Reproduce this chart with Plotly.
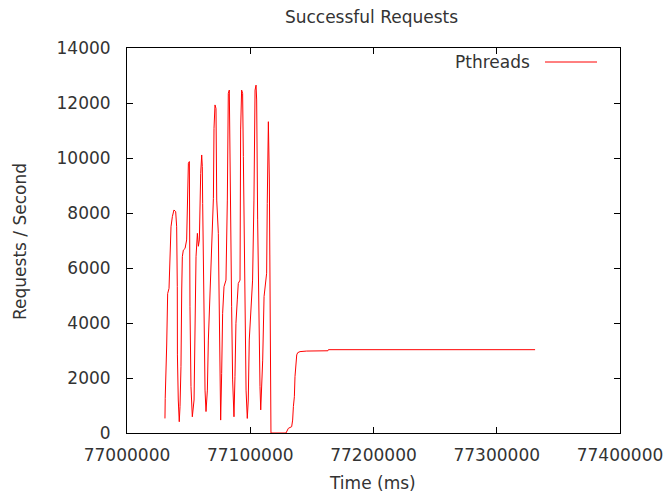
import plotly.graph_objects as go

# Time offsets (ms) relative to 77,000,000 and request rates
base_time = 77000000
t_offset = [
    30800, 31000, 32200, 33000, 34100, 34900, 35700, 36800, 38100, 39500,
    40300, 40800, 40900, 41600, 42400, 43000, 43800, 44400, 44900, 45700,
    47100, 48400, 48900, 49800, 50600, 50700, 51100, 51900, 53000, 54400,
    55200, 56000, 57100, 57900, 58700, 59200, 59800, 60600, 61100, 61400,
    61900, 62700, 63300, 64100, 65200, 66000, 66800, 67900, 68700, 69500,
    70100, 70600, 71400, 72200, 72800, 74100, 74900, 75500, 76000, 76800,
    77600, 78700, 80300, 81400, 82200, 83000, 83600, 84100, 84900, 85700,
    86800, 87600, 88400, 89500, 90300, 91700, 92200, 93000, 93800, 94400,
    95200, 95700, 96600, 97600, 98400, 99200, 100300, 101900, 103000, 103900,
    104700, 105200, 106000, 106600, 107400, 107900, 108500, 109300, 110100, 111200,
    112000, 113300, 113800, 114700, 115500, 116000, 116600, 116800, 129000, 129600,
    130900, 133600, 134400, 135000, 135800, 136300, 137100, 137700, 138500, 140400,
    145800, 163000, 163400, 331100,
]
requests = [
    530, 1260, 3200, 5070, 5260, 6530, 7500, 7870, 8110, 8050,
    7500, 5320, 2840, 1200, 410, 960, 2410, 5200, 6410, 6650,
    6710, 7020, 8110, 9810, 9870, 8110, 4590, 1690, 590, 1200,
    3750, 6410, 7260, 6790, 7020, 8350, 9440, 10110, 9690, 8350,
    5810, 3750, 1560, 780, 1560, 3380, 4350, 5810, 6410, 7500,
    8530, 11080, 11930, 11800, 8470, 7260, 4590, 1560, 470, 2170,
    4350, 5320, 5560, 8470, 12350, 12470, 10060, 5930, 4590, 1930,
    590, 2050, 3990, 4840, 5440, 5560, 11020, 12470, 12350, 10060,
    6290, 4230, 1560, 530, 1200, 3380, 4230, 5560, 8470, 12470,
    12650, 12110, 7750, 5200, 2780, 1690, 840, 1690, 2650, 4960,
    5320, 5810, 8350, 11320, 9200, 3380, 1200, 0, 0, 50,
    170, 230, 470, 960, 1320, 2050, 2650, 2840, 2920, 2960,
    2980, 2990, 3030, 3030,
]

times = [base_time + v for v in t_offset]

x_ticks = [77000000, 77100000, 77200000, 77300000, 77400000]
y_ticks = [0, 2000, 4000, 6000, 8000, 10000, 12000, 14000]

FONT = dict(family="DejaVu Sans", size=17, color="#333333")

# plot area in pixels (from the reference)
L, R, T, B = 127, 620, 48, 433
PW, PH = R - L, B - T


def px(x):
    return (x - L) / PW


def py(y):
    return (B - y) / PH


fig = go.Figure()
fig.add_trace(go.Scatter(x=times, y=requests, mode="lines", name="Pthreads",
                         line=dict(color="#ff0000", width=1), showlegend=False))

fig.update_layout(
    width=669, height=499,
    margin=dict(l=L, r=669 - R, t=T, b=499 - B, autoexpand=False),
    paper_bgcolor="white", plot_bgcolor="white",
    title=dict(text="Successful Requests", x=371.5 / 669, xanchor="center",
               y=1 - 17 / 499, yanchor="middle", xref="container", yref="container",
               font=FONT),
    font=FONT,
    showlegend=False,
)
fig.update_xaxes(range=[77000000, 77400000], tickvals=x_ticks,
                 ticktext=[str(v) for v in x_ticks],
                 ticks="inside", ticklen=6, tickcolor="#000", mirror="ticks",
                 showline=True, linecolor="#000", linewidth=1, showgrid=False,
                 zeroline=False, automargin=False, ticklabelstandoff=7)
fig.update_yaxes(range=[0, 14000], tickvals=y_ticks,
                 ticktext=[str(v) for v in y_ticks],
                 ticks="inside", ticklen=6, tickcolor="#000", mirror="ticks",
                 showline=True, linecolor="#000", linewidth=1, showgrid=False,
                 zeroline=False, automargin=False, ticklabelstandoff=12)

# axis titles
fig.add_annotation(text="Time (ms)", xref="paper", yref="paper",
                   x=px(372), y=py(483), xanchor="center", yanchor="middle",
                   showarrow=False, font=FONT)
fig.add_annotation(text="Requests / Second", xref="paper", yref="paper",
                   x=px(20), y=py(242), xanchor="center", yanchor="middle",
                   textangle=-90, showarrow=False, font=FONT)

# gnuplot-style key: label then line sample, top right inside the plot
fig.add_annotation(text="Pthreads", xref="paper", yref="paper",
                   x=px(532), y=py(62), xanchor="right", yanchor="middle",
                   showarrow=False, font=FONT)
fig.add_shape(type="line", xref="paper", yref="paper",
              x0=px(545), x1=px(597), y0=py(62), y1=py(62),
              line=dict(color="#ff0000", width=1))

fig.write_html("out.html",
               config={"displayModeBar": False},
               post_script="document.body.style.margin='0';"
                           "document.body.style.overflow='hidden';")
